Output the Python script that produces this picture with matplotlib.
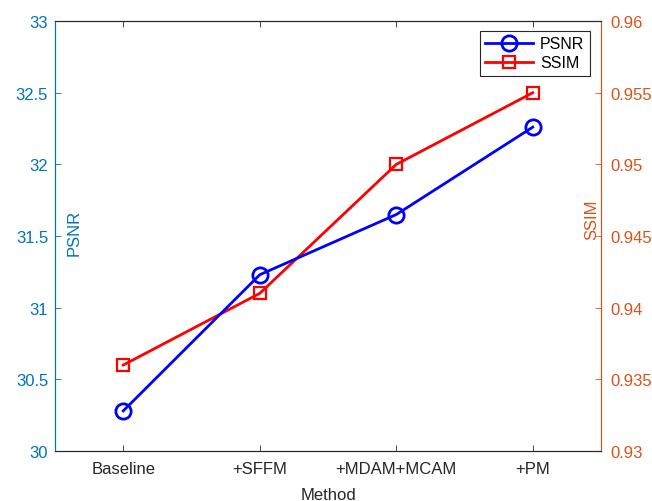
import matplotlib
matplotlib.use('Agg')
import matplotlib.pyplot as plt

plt.rcParams['font.family'] = ['Liberation Sans', 'DejaVu Sans']

methods = ['Baseline', '+SFFM', '+MDAM+MCAM', '+PM']
psnr = [30.28, 31.23, 31.65, 32.26]
ssim = [0.936, 0.941, 0.950, 0.955]

c_left = '#0072BD'
c_right = '#D95319'
c_box = '#262626'

fig = plt.figure(figsize=(6.52, 5.02), dpi=100)
ax = fig.add_axes([0.0844, 0.0996, 0.8374, 0.8564])
ax2 = ax.twinx()

x = list(range(1, len(methods) + 1))
l1, = ax.plot(x, psnr, color='blue', lw=2, marker='o', ms=11, mfc='none',
              mew=2, label='PSNR')
l2, = ax2.plot(x, ssim, color='red', lw=2, marker='s', ms=8, mfc='none',
               mew=1.6, label='SSIM')

ax.set_xlim(0.5, 4.5)
ax.set_ylim(30, 33)
ax2.set_ylim(0.93, 0.96)
ax.set_xticks(x)
ax.set_xticklabels(methods)
ax.set_yticks([30, 30.5, 31, 31.5, 32, 32.5, 33])
ax.set_yticklabels(['30', '30.5', '31', '31.5', '32', '32.5', '33'])
ax2.set_yticks([0.93, 0.935, 0.94, 0.945, 0.95, 0.955, 0.96])
ax2.set_yticklabels(['0.93', '0.935', '0.94', '0.945', '0.95', '0.955', '0.96'])

ax.tick_params(axis='x', direction='in', top=True, colors=c_box, labelsize=12,
               length=4, width=0.6, pad=7)
ax.tick_params(axis='y', direction='in', colors=c_left, labelsize=12,
               length=4, width=0.6, pad=5)
ax2.tick_params(axis='y', direction='in', colors=c_right, labelsize=12,
                length=4, width=0.6, pad=7)

for a in (ax, ax2):
    a.spines['top'].set_color(c_box)
    a.spines['bottom'].set_color(c_box)
    a.spines['left'].set_color(c_left)
    a.spines['right'].set_color(c_right)
    for s in a.spines.values():
        s.set_linewidth(0.8)

ax.set_xlabel('Method', fontsize=12, color=c_box, labelpad=8)
ax.set_ylabel('PSNR', fontsize=12, color=c_left)
ax.yaxis.set_label_coords(0.049, 0.51)
ax2.set_ylabel('SSIM', fontsize=12, color=c_right)
ax2.yaxis.set_label_coords(0.969, 0.54)

leg = ax.legend([l1, l2], ['PSNR', 'SSIM'], loc='upper right',
                bbox_to_anchor=(0.985, 0.985), fontsize=11.5, fancybox=False,
                framealpha=1, edgecolor=c_box, handlelength=3.0,
                borderpad=0.35, labelspacing=0.25, handletextpad=0.4,
                borderaxespad=0.2)
leg.get_frame().set_linewidth(0.8)
ax.set_zorder(ax2.get_zorder() + 1)
ax.patch.set_visible(False)

fig.savefig('out.png', dpi=100)
